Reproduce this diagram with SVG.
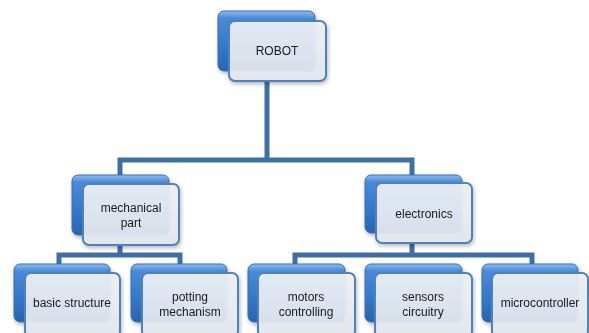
<svg xmlns="http://www.w3.org/2000/svg" width="589" height="333" viewBox="0 0 589 333">
<defs>
<linearGradient id="blue" x1="0" y1="0" x2="0" y2="1">
<stop offset="0" stop-color="#8fbcef"/>
<stop offset="0.12" stop-color="#4a8ad8"/>
<stop offset="0.6" stop-color="#3577c8"/>
<stop offset="1" stop-color="#2a64ad"/>
</linearGradient>
<linearGradient id="face" x1="0" y1="0" x2="0" y2="1">
<stop offset="0" stop-color="#eef1f6"/>
<stop offset="1" stop-color="#e2e7ee"/>
</linearGradient>
<filter id="sh" x="-10%" y="-10%" width="130%" height="130%">
<feGaussianBlur in="SourceAlpha" stdDeviation="2"/>
<feOffset dx="1" dy="2"/>
<feComponentTransfer><feFuncA type="linear" slope="0.3"/></feComponentTransfer>
<feMerge><feMergeNode/><feMergeNode in="SourceGraphic"/></feMerge>
</filter>
</defs>
<style>
.back{fill:url(#blue);stroke:#3a6fb0;stroke-width:1}
.front{fill:url(#face);fill-opacity:0.93;stroke:#4f81bd;stroke-width:2}
.conn{fill:none;stroke:#3e6ea6;stroke-width:5;stroke-linejoin:miter}
.t{font-family:"Liberation Sans",Arial,sans-serif;font-size:12px;fill:#1a1a1a;text-anchor:middle}
</style>
<rect width="589" height="333" fill="#ffffff"/>
<g id="connectors">
<path class="conn" d="M267,80 V160 M120,175 V160 H412 V175"/>
<path class="conn" d="M120,246 V255 M59,264 V255 H180 V264"/>
<path class="conn" d="M412,243 V255 M295,264 V255 H532 V264"/>
</g>
<g id="robot" filter="url(#sh)">
<rect class="back" x="218" y="11" width="97" height="60" rx="6"/>
<rect class="front" x="229" y="21" width="97" height="60" rx="6"/>
<text class="t" x="277" y="55">ROBOT</text>
</g>
<g id="mechanical" filter="url(#sh)">
<rect class="back" x="72" y="175" width="97" height="60" rx="6"/>
<rect class="front" x="83" y="184" width="96" height="61" rx="6"/>
<text class="t" x="131" y="212">mechanical</text>
<text class="t" x="131" y="227">part</text>
</g>
<g id="electronics" filter="url(#sh)">
<rect class="back" x="365" y="175" width="97" height="58" rx="6"/>
<rect class="front" x="376" y="183" width="96" height="60" rx="6"/>
<text class="t" x="424" y="218">electronics</text>
</g>
<g id="basic" filter="url(#sh)">
<rect class="back" x="14" y="264" width="96" height="58" rx="6"/>
<rect class="front" x="25" y="273" width="95" height="64" rx="6"/>
<text class="t" x="72" y="307">basic structure</text>
</g>
<g id="potting" filter="url(#sh)">
<rect class="back" x="131" y="264" width="96" height="58" rx="6"/>
<rect class="front" x="142" y="273" width="96" height="64" rx="6"/>
<text class="t" x="190" y="301">potting</text>
<text class="t" x="190" y="316">mechanism</text>
</g>
<g id="motors" filter="url(#sh)">
<rect class="back" x="248" y="264" width="97" height="58" rx="6"/>
<rect class="front" x="258" y="273" width="97" height="64" rx="6"/>
<text class="t" x="306" y="301">motors</text>
<text class="t" x="306" y="316">controlling</text>
</g>
<g id="sensors" filter="url(#sh)">
<rect class="back" x="365" y="264" width="97" height="58" rx="6"/>
<rect class="front" x="375" y="273" width="97" height="64" rx="6"/>
<text class="t" x="423" y="301">sensors</text>
<text class="t" x="423" y="316">circuitry</text>
</g>
<g id="microcontroller" filter="url(#sh)">
<rect class="back" x="482" y="264" width="96" height="58" rx="6"/>
<rect class="front" x="492" y="273" width="96" height="64" rx="6"/>
<text class="t" x="540" y="307">microcontroller</text>
</g>
</svg>
